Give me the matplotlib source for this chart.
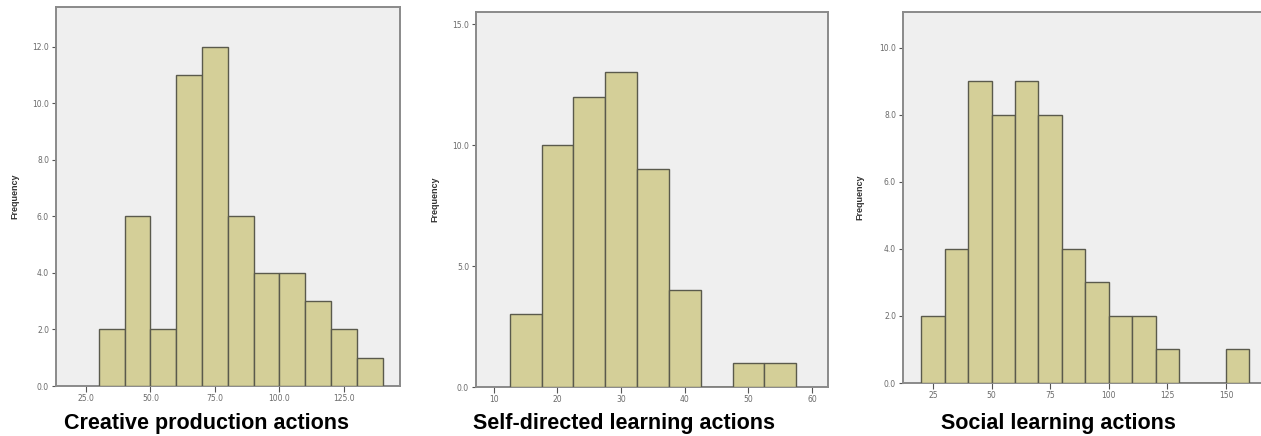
import matplotlib
matplotlib.use("Agg")
import matplotlib.pyplot as plt
import numpy as np

# Panel 1: Creative production actions (bin edges 30..140, width 10)
creative_edges = [30, 40, 50, 60, 70, 80, 90, 100, 110, 120, 130, 140]
creative_counts = [2, 6, 2, 11, 12, 6, 4, 4, 3, 2, 1]
creative_xticks = [25, 50, 75, 100, 125]
creative_yticks = [0, 2, 4, 6, 8, 10, 12]

# Panel 2: Self-directed learning actions (bin edges 12.5..57.5, width 5)
self_edges = [12.5, 17.5, 22.5, 27.5, 32.5, 37.5, 42.5, 47.5, 52.5, 57.5]
self_counts = [3, 10, 12, 13, 9, 4, 0, 1, 1]
self_xticks = [10, 20, 30, 40, 50, 60]
self_yticks = [0, 5, 10, 15]

# Panel 3: Social learning actions (bin edges 20..160, width 10)
social_edges = [20, 30, 40, 50, 60, 70, 80, 90, 100, 110, 120, 130, 140, 150, 160]
social_counts = [2, 4, 9, 8, 9, 8, 4, 3, 2, 2, 1, 0, 0, 1]
social_xticks = [25, 50, 75, 100, 125, 150]
social_yticks = [0, 2, 4, 6, 8, 10]

titles = ["Creative production actions", "Self-directed learning actions", "Social learning actions"]

W, H = 1261, 436
fig = plt.figure(figsize=(W / 100, H / 100), dpi=100)

BG = "#efefef"
BAR = "#d4cf98"
EDGE = "#5a5a4c"
SPINE = "#8a8a8a"
TICKC = "#6a6a6a"

def px_axes(l, r, t, b):
    return fig.add_axes([l / W, (H - b) / H, (r - l) / W, (b - t) / H])

panels = [
    dict(box=(56, 400, 7, 386), edges=creative_edges, counts=creative_counts,
         xt=creative_xticks, yt=creative_yticks, xlim=(13.4, 146.7), ylim=(0, 13.4),
         xfmt="{:.1f}", ylab_x=15, title_x=207),
    dict(box=(476, 828, 12, 387), edges=self_edges, counts=self_counts,
         xt=self_xticks, yt=self_yticks, xlim=(7.2, 62.5), ylim=(0, 15.5),
         xfmt="{:d}", ylab_x=435, title_x=624),
    dict(box=(903, 1264, 12, 383), edges=social_edges, counts=social_counts,
         xt=social_xticks, yt=social_yticks, xlim=(12.2, 166.2), ylim=(0, 11.07),
         xfmt="{:d}", ylab_x=860, title_x=1058),
]

for i, p in enumerate(panels):
    ax = px_axes(*p["box"])
    ax.set_facecolor(BG)
    edges = np.array(p["edges"], dtype=float)
    counts = np.array(p["counts"], dtype=float)
    ax.bar(edges[:-1], counts, width=np.diff(edges), align="edge",
           color=BAR, edgecolor=EDGE, linewidth=1.0, zorder=3)
    ax.set_xlim(*p["xlim"])
    ax.set_ylim(*p["ylim"])
    ax.set_xticks(p["xt"])
    ax.set_xticklabels([p["xfmt"].format(v) for v in p["xt"]])
    ax.set_yticks(p["yt"])
    ax.set_yticklabels(["{:.1f}".format(v) for v in p["yt"]])
    for s in ax.spines.values():
        s.set_color(SPINE)
        s.set_linewidth(1.4)
    if i == 2:
        ax.spines["right"].set_visible(False)
    ax.tick_params(axis="both", direction="out", length=3, width=0.8,
                   color="#555555", labelsize=5.5, labelcolor=TICKC, pad=2)
    ax.tick_params(axis="x", length=4)
    # y label
    fig.text(p["ylab_x"] / W, (H - (p["box"][2] + p["box"][3]) / 2) / H, "Frequency",
             rotation=90, ha="center", va="center", fontsize=6.5,
             fontweight="bold", color="#333333", family="Liberation Sans")
    fig.text(p["title_x"] / W, (H - 423) / H, titles[i], ha="center", va="center",
             fontsize=15.5, fontweight="bold", color="black", family="Liberation Sans")

fig.savefig("out.png", dpi=100, facecolor="white")
